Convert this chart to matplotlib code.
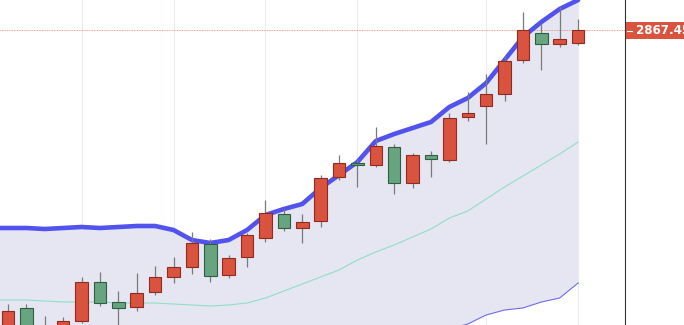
import matplotlib
matplotlib.use("Agg")
import matplotlib.pyplot as plt
from matplotlib.patches import Rectangle
from matplotlib.lines import Line2D
import numpy as np

# candles, index -1 is the one just off the left edge
idx = list(range(-1, 32))
opens = [2570.0, 2562.5, 2589.5, 2557.5, 2562.5, 2576.5, 2615.5, 2595.5, 2590.5, 2605.5, 2620.5,
         2630.5, 2653.5, 2622.5, 2640.5, 2659.5, 2683.5, 2669.5, 2676.5, 2720.5, 2734.5,
         2732.5, 2750.5, 2714.5, 2742.5, 2737.5, 2780.5, 2791.5, 2803.5, 2837.5, 2864.5,
         2853.5, 2854.5]
highs = [2590.0, 2593.5, 2593.5, 2581.5, 2580.5, 2620.5, 2625.5, 2606.5, 2624.5, 2631.5, 2640.5,
         2665.5, 2658.5, 2642.5, 2664.5, 2697.5, 2688.5, 2683.5, 2722.5, 2742.5, 2737.5,
         2770.5, 2753.5, 2744.5, 2746.5, 2784.5, 2805.5, 2823.5, 2841.5, 2885.5, 2874.5,
         2890.5, 2878.5]
lows = [2550.0, 2557.5, 2557.5, 2552.5, 2557.5, 2574.5, 2591.5, 2562.5, 2586.5, 2602.5, 2614.5,
        2623.5, 2615.5, 2619.5, 2630.5, 2655.5, 2666.5, 2654.5, 2670.5, 2717.5, 2710.5,
        2730.5, 2703.5, 2709.5, 2720.5, 2735.5, 2776.5, 2753.5, 2796.5, 2834.5, 2827.5,
        2850.5, 2852.5]
closes = [2580.0, 2586.5, 2562.5, 2569.5, 2576.5, 2615.5, 2594.5, 2589.5, 2604.5, 2620.5, 2630.5,
          2654.5, 2621.5, 2639.5, 2662.5, 2684.5, 2669.5, 2675.5, 2719.5, 2734.5, 2732.5,
          2751.5, 2714.5, 2742.5, 2738.5, 2779.5, 2784.5, 2803.5, 2836.5, 2867.5, 2853.5,
          2858.5, 2867.45]

# bands
upper = [2669.5, 2669.5, 2669.5, 2668.5, 2669.5, 2670.5, 2669.5, 2670.5, 2671.5, 2671.5, 2667.5,
         2657.5, 2654.5, 2657.5, 2667.5, 2682.5, 2688.5, 2693.5, 2709.5, 2722.5, 2735.5,
         2756.5, 2763.5, 2769.5, 2775.5, 2790.5, 2799.5, 2814.5, 2837.5, 2860.5, 2875.5,
         2888.5, 2897.5]
middle = [2597.5, 2597.5, 2597.5, 2596.5, 2595.5, 2595.5, 2595.5, 2594.5, 2594.5, 2594.5, 2593.5,
          2592.5, 2591.5, 2592.5, 2594.5, 2599.5, 2606.5, 2613.5, 2620.5, 2627.5, 2637.5,
          2645.5, 2652.5, 2660.5, 2668.5, 2679.5, 2686.5, 2698.5, 2710.5, 2721.5, 2732.5,
          2743.5, 2755.5]
lower = [2525.5, 2525.5, 2525.5, 2524.5, 2521.5, 2520.5, 2521.5, 2518.5, 2517.5, 2517.5, 2519.5,
         2527.5, 2528.5, 2527.5, 2521.5, 2516.5, 2524.5, 2533.5, 2531.5, 2532.5, 2539.5,
         2534.5, 2541.5, 2551.5, 2561.5, 2568.5, 2573.5, 2582.5, 2587.5, 2589.5, 2595.5,
         2599.5, 2614.5]

last_price = 2867.45
grid_at = [4, 9, 14, 19, 26, 31]

W, H = 684, 325
fig = plt.figure(figsize=(W / 100, H / 100), dpi=100)
ax = fig.add_axes([0, 0, 625 / W, 1])

x = np.array(idx)
o = np.array(opens)
c = np.array(closes)
up = c >= o

for g in grid_at:
    ax.axvline(g, color="#e6edf3", lw=0.8, zorder=0)

ax.fill_between(x, lower, upper, color="#e6e6f2", lw=0, zorder=1)
ax.plot(x, middle, color="#8fe0c4", lw=0.8, zorder=2)
ax.plot(x, lower, color="#6c6ce8", lw=0.8, zorder=2)
ax.plot(x, upper, color="#5252ee", lw=3.3, zorder=2, solid_capstyle="round")

ax.vlines(x, lows, highs, color="#7a7a7a", lw=0.9, zorder=3)
body_lo = np.minimum(o, c)
body_h = np.abs(c - o)
ax.bar(x[up], body_h[up], bottom=body_lo[up], width=0.68,
       color="#d9533f", edgecolor="#8e2c20", lw=0.8, zorder=4)
ax.bar(x[~up], body_h[~up], bottom=body_lo[~up], width=0.68,
       color="#67a47f", edgecolor="#2f5f43", lw=0.8, zorder=4)

ax.axhline(last_price, color="#e8806f", lw=0.6, ls=(0, (1, 1)), zorder=1)

ax.set_xlim(-0.435, 33.55)
ax.set_ylim(2572.5, 2897.5)
for s in ["top", "left", "bottom"]:
    ax.spines[s].set_visible(False)
ax.spines["right"].set_color("#333333")
ax.spines["right"].set_linewidth(0.8)
ax.set_xticks([])
ax.set_yticks([])

# price label on the right axis
fig.add_artist(Rectangle((625.5 / W, 1 - 39 / H), 60 / W, 17 / H,
                         transform=fig.transFigure, color="#d9533f", lw=0))
fig.add_artist(Line2D([627 / W, 632 / W], [1 - 30.5 / H, 1 - 30.5 / H],
                      transform=fig.transFigure, color="white", lw=0.8))
fig.text(636 / W, 1 - 30.5 / H, "%.2f" % last_price, color="white",
         fontsize=8.6, fontweight="bold", va="center", ha="left")

fig.savefig("out.png", dpi=100)
